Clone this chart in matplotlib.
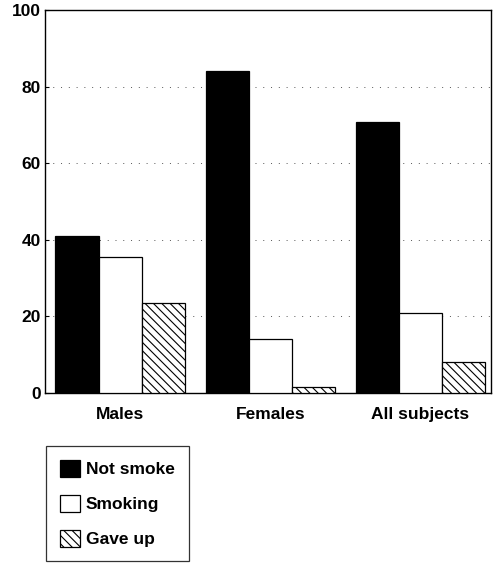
import matplotlib
matplotlib.use("Agg")
import matplotlib.pyplot as plt
import numpy as np
from matplotlib.patches import Patch

categories = ["Males", "Females", "All subjects"]
series = ["Not smoke", "Smoking", "Gave up"]
not_smoke = [41, 84, 70.8]
smoking = [35.5, 14, 21]
gave_up = [23.5, 1.5, 8]
yticks = [0, 20, 40, 60, 80, 100]

plt.rcParams['font.family'] = ['Liberation Sans', 'DejaVu Sans']
plt.rcParams['hatch.linewidth'] = 0.8

fig = plt.figure(figsize=(4.95, 5.65), dpi=100)
ax = fig.add_axes([45/495, 1-393/565, (491-45)/495, (393-10)/565])

x = np.arange(len(categories))
w = 0.287
styles = [dict(facecolor='black', edgecolor='black'),
          dict(facecolor='white', edgecolor='black'),
          dict(facecolor='white', edgecolor='black', hatch='\\\\\\\\')]
for i, (vals, st) in enumerate(zip([not_smoke, smoking, gave_up], styles)):
    ax.bar(x + (i-1)*w, vals, w, linewidth=0.9, zorder=3, **st)

ax.set_xlim(-0.5, 2.47)
ax.set_ylim(0, 100)
ax.set_yticks(yticks)
ax.set_yticklabels([str(t) for t in yticks], fontsize=12.5, fontweight='bold')
ax.set_xticks(x)
ax.set_xticklabels(categories, fontsize=12.5, fontweight='bold')
ax.tick_params(axis='x', length=0, pad=10)
ax.tick_params(axis='y', length=3, direction='in', pad=3)
for t in [20, 40, 60, 80]:
    ax.axhline(t, color='#555555', lw=0.7, ls=(0, (1, 7)), zorder=1)
for s in ax.spines.values():
    s.set_linewidth(1.0)

handles = [Patch(**st, linewidth=0.9) for st in styles]
leg = fig.legend(handles, series, loc='upper left', bbox_to_anchor=(46/495, 1-446/565),
                 bbox_transform=fig.transFigure, frameon=True, fancybox=False,
                 prop=dict(size=12.5, weight='bold'),
                 edgecolor='black', handlelength=1.15, handleheight=1.15, handletextpad=0.35,
                 labelspacing=1.0, borderpad=0.8, borderaxespad=0)
leg.get_frame().set_linewidth(0.9)

fig.savefig("out.png", dpi=100)
